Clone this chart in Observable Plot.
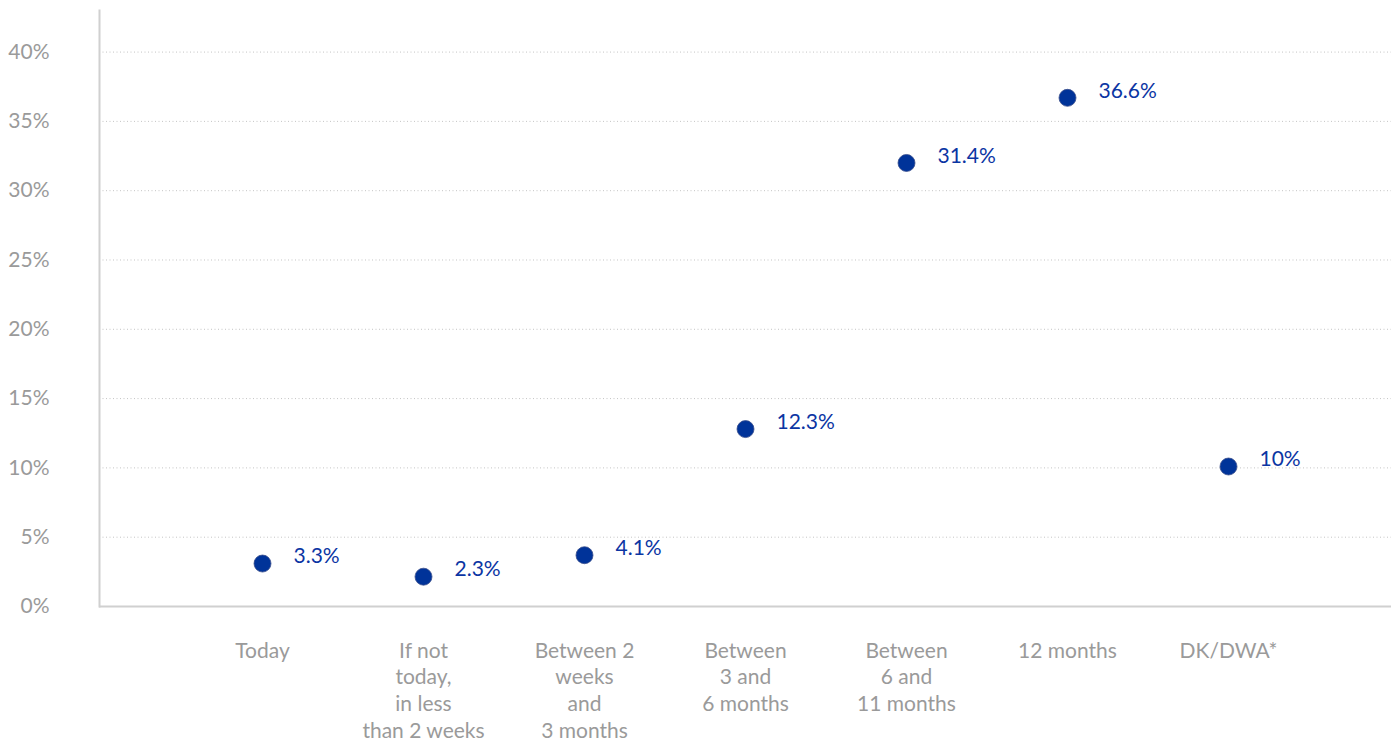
<!DOCTYPE html>
<html>
<head>
<meta charset="utf-8">
<script src="https://cdn.jsdelivr.net/npm/d3@7"></script>
<script src="https://cdn.jsdelivr.net/npm/@observablehq/plot@0.6"></script>
<style>
  html, body { margin: 0; padding: 0; background: #fff; }
  #chart svg { display: block; }
</style>
</head>
<body>
<div id="chart"></div>
<script>
const categories = [
  "Today",
  "If not\ntoday,\nin less\nthan 2 weeks",
  "Between 2\nweeks\nand\n3 months",
  "Between\n3 and\n6 months",
  "Between\n6 and\n11 months",
  "12 months",
  "DK/DWA*"
];
const values = [3.1, 2.15, 3.7, 12.8, 32.0, 36.7, 10.1];
const labels = ["3.3%", "2.3%", "4.1%", "12.3%", "31.4%", "36.6%", "10%"];
const yTicks = [0, 5, 10, 15, 20, 25, 30, 35, 40];

const data = categories.map((c, i) => ({cat: c, value: values[i], label: labels[i]}));

const plot = Plot.plot({
  width: 1400,
  height: 742,
  marginLeft: 99,
  marginRight: 9,
  marginTop: 10,
  marginBottom: 136,
  style: {fontFamily: "Lato, 'Open Sans', sans-serif", fontSize: "21px", background: "#fff"},
  x: {type: "point", domain: categories, padding: 1},
  y: {domain: [0, 43]},
  marks: [
    Plot.gridY(yTicks.filter(d => d > 0), {stroke: "#c4c4c4", strokeOpacity: 1, strokeDasharray: "1,2.5", strokeWidth: 1}),
    Plot.frame({anchor: "left", stroke: "#d0d0d0", strokeWidth: 2}),
    Plot.ruleY([0], {stroke: "#d0d0d0", strokeWidth: 2}),
    Plot.axisY({ticks: yTicks, tickSize: 0, tickPadding: 50, tickFormat: d => d + "%", fill: "#9a9a9a", fontSize: 21, label: null}),
    Plot.axisX({tickSize: 0, tickPadding: 32, fill: "#9a9a9a", fontSize: 21, lineHeight: 1.28, label: null}),
    Plot.dot(data, {x: "cat", y: "value", r: 8.5, fill: "#003399", stroke: "#3a4e8c", strokeWidth: 0.8}),
    Plot.text(data, {x: "cat", y: "value", text: "label", textAnchor: "start", dx: 31, dy: -7, fill: "#0b35a3", fontSize: 21})
  ]
});
document.getElementById("chart").appendChild(plot);
</script>
</body>
</html>
